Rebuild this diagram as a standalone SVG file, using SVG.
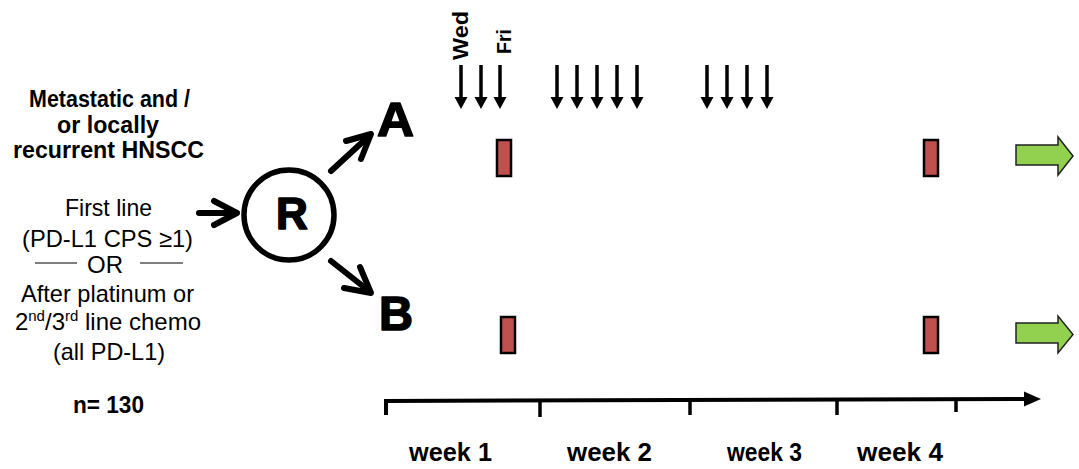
<svg xmlns="http://www.w3.org/2000/svg" xmlns:xlink="http://www.w3.org/1999/xlink" width="1079" height="469" viewBox="0 0 1079 469">
<style>
text{font-family:"Liberation Sans",Arial,sans-serif;fill:#000}
.b{font-weight:bold}
.reg{font-size:24px}
.title{font-size:23px;font-weight:bold}
.wk{font-size:25px;font-weight:bold}
.big{font-size:48px;font-weight:bold;stroke:#000;stroke-width:1.6;stroke-linejoin:round}
.conn{fill:none;stroke:#000;stroke-width:6;stroke-linecap:round;stroke-linejoin:round}
.red{fill:#C0504D;stroke:#000;stroke-width:2.5}
.green{fill:#92D050;stroke:#222;stroke-width:1.5;stroke-linejoin:miter}
</style>
<defs>
<g id="dose">
<line x1="0" y1="65" x2="0" y2="99" stroke="#000" stroke-width="3.5"/>
<polygon points="-6.5,97 6.5,97 0,109" fill="#000"/>
</g>
</defs>
<rect width="1079" height="469" fill="#fff"/>

<g id="population">
<text class="title" x="29" y="107" textLength="161" lengthAdjust="spacingAndGlyphs">Metastatic and /</text>
<text class="title" x="57" y="133" textLength="102" lengthAdjust="spacingAndGlyphs">or locally</text>
<text class="title" x="13" y="158" textLength="191" lengthAdjust="spacingAndGlyphs">recurrent HNSCC</text>
<text class="reg" x="65" y="216" textLength="87" lengthAdjust="spacingAndGlyphs">First line</text>
<text class="reg" x="22" y="247" textLength="171" lengthAdjust="spacingAndGlyphs">(PD-L1 CPS ≥1)</text>
<line x1="35" y1="263" x2="77" y2="263" stroke="#000" stroke-width="1.2"/>
<text class="reg" text-anchor="middle" x="105" y="273">OR</text>
<line x1="140" y1="263" x2="183" y2="263" stroke="#000" stroke-width="1.2"/>
<text class="reg" x="21" y="302" textLength="173" lengthAdjust="spacingAndGlyphs">After platinum or</text>
<text class="reg" text-anchor="middle" x="108" y="330">2<tspan font-size="15" dy="-9">nd</tspan><tspan dy="9">/3</tspan><tspan font-size="15" dy="-9">rd</tspan><tspan dy="9"> line chemo</tspan></text>
<text class="reg" x="53" y="360" textLength="112" lengthAdjust="spacingAndGlyphs">(all PD-L1)</text>
<text class="title" x="73" y="413" textLength="71" lengthAdjust="spacingAndGlyphs">n= 130</text>
</g>

<g id="randomization">
<circle cx="289" cy="215" r="45" fill="#fff" stroke="#000" stroke-width="5.5"/>
<text class="big" text-anchor="middle" x="292" y="229" style="font-size:44px">R</text>
</g>

<g id="arm-A">
<text class="big" x="377" y="136" textLength="37" lengthAdjust="spacingAndGlyphs">A</text>
<rect class="red" x="497" y="140" width="14" height="36"/>
<rect class="red" x="924" y="140" width="14" height="36"/>
<polygon class="green" points="1016,145 1058,145 1058,137 1073,156 1058,175 1058,165 1016,165"/>
</g>

<g id="arm-B">
<text class="big" x="379" y="330" textLength="34" lengthAdjust="spacingAndGlyphs">B</text>
<rect class="red" x="501" y="317" width="14" height="36"/>
<rect class="red" x="924" y="317" width="14" height="36"/>
<polygon class="green" points="1016,323 1058,323 1058,316 1073,334.5 1058,353 1058,343 1016,343"/>
</g>

<g id="dosing">
<text class="b" font-size="22" transform="translate(468,60) rotate(-90)" textLength="49" lengthAdjust="spacingAndGlyphs">Wed</text>
<text class="b" font-size="21" transform="translate(511,54) rotate(-90)" textLength="25" lengthAdjust="spacingAndGlyphs">Fri</text>
<use xlink:href="#dose" x="461"/>
<use xlink:href="#dose" x="481"/>
<use xlink:href="#dose" x="500"/>
<use xlink:href="#dose" x="557"/>
<use xlink:href="#dose" x="577"/>
<use xlink:href="#dose" x="597"/>
<use xlink:href="#dose" x="617"/>
<use xlink:href="#dose" x="637"/>
<use xlink:href="#dose" x="707"/>
<use xlink:href="#dose" x="727"/>
<use xlink:href="#dose" x="747"/>
<use xlink:href="#dose" x="767"/>
</g>

<g id="connectors">
<line class="conn" x1="199" y1="213" x2="236" y2="213"/>
<polyline class="conn" points="214,201 237,213 214,225"/>
<line class="conn" x1="331" y1="171" x2="369" y2="136"/>
<polyline class="conn" points="346,141 371,134 361,159"/>
<line class="conn" x1="331" y1="261" x2="369" y2="291"/>
<polyline class="conn" points="344,288 371,293 360,267"/>
</g>

<g id="timeline">
<polyline points="386,415 386,401 1026,399" fill="none" stroke="#000" stroke-width="4" stroke-linejoin="miter"/>
<polygon points="1024,391.5 1041,399 1024,406.5" fill="#000"/>
<line x1="540" y1="400" x2="540" y2="417" stroke="#000" stroke-width="3.5"/>
<line x1="690" y1="400" x2="690" y2="415" stroke="#000" stroke-width="3.5"/>
<line x1="837" y1="400" x2="837" y2="415" stroke="#000" stroke-width="3.5"/>
<line x1="956" y1="400" x2="956" y2="412" stroke="#000" stroke-width="3.5"/>
<text class="wk" x="409" y="461" textLength="83" lengthAdjust="spacingAndGlyphs">week 1</text>
<text class="wk" x="567" y="461" textLength="85" lengthAdjust="spacingAndGlyphs">week 2</text>
<text class="wk" x="727" y="461" textLength="75" lengthAdjust="spacingAndGlyphs">week 3</text>
<text class="wk" x="857" y="461" textLength="86" lengthAdjust="spacingAndGlyphs">week 4</text>
</g>
</svg>
